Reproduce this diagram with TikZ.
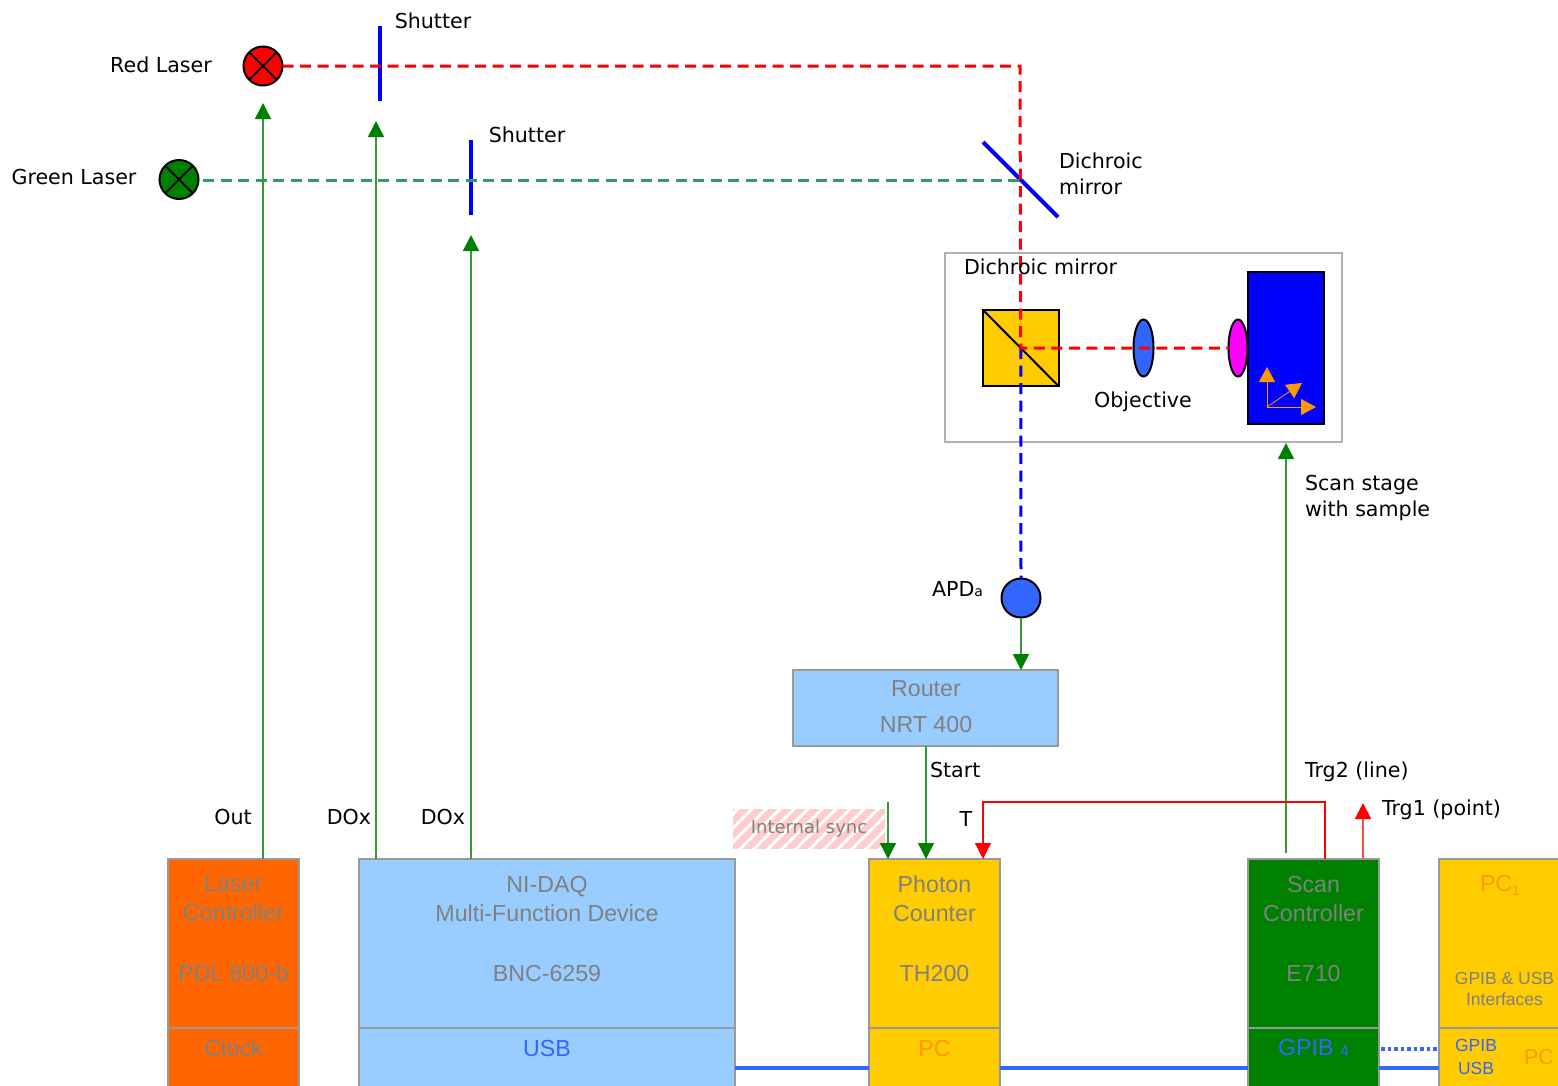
\documentclass[tikz,border=0pt]{standalone}
\usepackage{fontspec}
\setmainfont{DejaVu Sans}
\newfontfamily\blockfont{Liberation Sans}
\usetikzlibrary{arrows.meta,shapes.geometric}
\definecolor{greybd}{HTML}{999999}
\definecolor{greytx}{HTML}{808080}
\definecolor{ltblue}{HTML}{99CCFF}
\definecolor{amber}{HTML}{FFCC00}
\definecolor{orng}{HTML}{FF6600}
\definecolor{orngtx}{HTML}{FF9900}
\definecolor{gr}{HTML}{008000}
\definecolor{grline}{HTML}{339933}
\definecolor{beamgreen}{HTML}{339966}
\definecolor{royal}{HTML}{3366FF}
\definecolor{pinkst}{HTML}{FFCCCC}
\definecolor{lensmag}{HTML}{FF00FF}
\tikzset{
 x=1pt,y=-1pt,
 lbl/.style={inner sep=0,outer sep=0,font=\fontsize{20.6}{26}\selectfont,text=black,align=left},
 blocktxt/.style={inner sep=0,outer sep=0,font=\blockfont\fontsize{23.2}{29}\selectfont,text=greytx,align=center},
 smalltxt/.style={inner sep=0,outer sep=0,font=\blockfont\fontsize{17.5}{21}\selectfont,text=greytx,align=center},
 block/.style={draw=greybd,line width=2.4pt,anchor=north west,inner sep=0,outer sep=0,rectangle},
 sig/.style={draw=grline,line width=1.5pt,-{Triangle[length=16pt,width=16pt,color=gr]}},
 redsig/.style={draw=red,line width=1.2pt,-{Triangle[length=16pt,width=16pt,color=red]}},
 lamp/.style={circle,draw=black,line width=2pt,minimum size=39pt,inner sep=0,outer sep=0},
 beam/.style={line width=3pt,dash pattern=on 11pt off 6.5pt},
 shutterbar/.style={fill=blue,inner sep=0,outer sep=0,minimum width=4pt,minimum height=75pt},
 optic/.style={draw=black,line width=2pt},
 lens/.style={ellipse,draw=black,line width=2pt,inner sep=0,outer sep=0,minimum height=57pt},
 axisarrow/.style={draw=orngtx,line width=.8pt,-{Triangle[length=15pt,width=16pt,color=orngtx]}},
 bus/.style={draw=royal,line width=3.5pt},
}
\begin{document}
\begin{tikzpicture}
\useasboundingbox (0,0) rectangle (1558,1085);
\clip (0,0) rectangle (1558,1085);
\fill[white] (0,0) rectangle (1558,1085);

% lasers and shutters
\node[lamp,fill=red] (rl) at (263,66) {};
\node[lamp,fill=gr] (gl) at (179,179.5) {};
\foreach \n in {rl,gl}{\draw[optic] (\n.45)--(\n.225) (\n.135)--(\n.315);}
\node[shutterbar] (s1) at (380,63.5) {};
\node[shutterbar] (s2) at (471,177) {};
\coordinate (gstart) at (203,180);
\coordinate (bend) at (1020,66);
\coordinate (mirrormid) at (1020,180);
\coordinate (m1) at (983,142);
\coordinate (m2) at (1058,217);
\draw[blue,line width=4pt] (m1)--(m2);

% optics box
\node[block,draw=black!30,line width=1.3pt,minimum width=397pt,minimum height=189pt] (optbox) at (945,253) {};
\node[block,fill=amber,draw=black,line width=2pt,minimum width=75.5pt,minimum height=76pt] (cube) at (983,310) {};
\draw[optic] (cube.north west)--(cube.south east);
\node[lens,fill=royal,minimum width=20pt] (obj) at (1143.5,348) {};
\node[block,fill=blue,draw=black,line width=2pt,minimum width=76pt,minimum height=152pt] (stage) at (1248,272) {};
\node[lens,fill=lensmag,minimum width=19pt] (samp) at (1238,348) {};
\coordinate (ax0) at (1267,407);
\coordinate (axu) at (1267,367);
\coordinate (axr) at (1316,407);
\coordinate (axd) at (1302,383);
\draw[axisarrow] (ax0)--(axu);
\draw[axisarrow] (ax0)--(axr);
\draw[axisarrow] (ax0)--(axd);

% APD and router
\node[lamp,fill=royal] (apd) at (1021,598) {};
\node[block,fill=ltblue,minimum width=265pt,minimum height=76pt] (router) at (793,670) {};

% beams
\draw[beam,blue] (cube.center)--(apd.north);
\draw[beam,beamgreen] (gstart)--(mirrormid);
\draw[beam,red] (rl.east)--(bend)--(cube.center)--(samp.west);

% hatched label
\begin{scope}
\clip (733,809) rectangle (885,848);
\foreach \k in {-4,...,12}{\draw[pinkst,line width=6.5pt] (730+14*\k,852)--(730+14*\k+48,804);}
\end{scope}
\node[inner sep=0,outer sep=0,font=\fontsize{18}{22}\selectfont,text=greytx] (isync) at (809,829) {Internal sync};

% blocks
\node[block,fill=orng,minimum width=131pt,minimum height=260pt] (lc) at (168,859) {};
\node[block,fill=ltblue,minimum width=376pt,minimum height=260pt] (daq) at (359,859) {};
\node[block,fill=amber,minimum width=131pt,minimum height=260pt] (pc) at (869,859) {};
\node[block,fill=gr,minimum width=131pt,minimum height=260pt] (sc) at (1248,859) {};
\node[block,fill=amber,minimum width=140pt,minimum height=260pt] (pcr) at (1439,859) {};
\foreach \a/\b in {168/299,359/735,869/1000,1248/1379,1439/1579}{
  \draw[greybd,line width=2.4pt] (\a,1028)--(\b,1028);}

% buses
\coordinate (busy) at (0,1068);
\coordinate (doty) at (0,1049);
\coordinate (dotx) at (1381,1049);
\draw[bus] (daq.east |- busy)--(pc.west |- busy);
\draw[bus] (pc.east |- busy)--(sc.west |- busy);
\draw[bus] (sc.east |- busy)--(pcr.west |- busy);
\draw[royal,line width=3.5pt,dash pattern=on 3.5pt off 3pt] (dotx)--(pcr.west |- doty);

% signal connectors
\coordinate (rltip) at (263,103);
\coordinate (s1tip) at (376,121);
\coordinate (s2tip) at (471,235);
\coordinate (stagetip) at (1286,443);
\coordinate (scgreen) at (1286,853);
\coordinate (syncstart) at (888,802);
\coordinate (trg1tip) at (1363,803);
\coordinate (redright) at (1325,802);
\coordinate (redleft) at (983,802);
\draw[sig] (lc.north -| rltip)--(rltip);
\draw[sig] (daq.north -| s1tip)--(s1tip);
\draw[sig] (daq.north -| s2tip)--(s2tip);
\draw[sig] (scgreen)--(stagetip);
\draw[sig] (apd.south)--(apd.south |- router.north);
\coordinate (startx) at (926,746);
\draw[sig] (startx)--(startx |- pc.north);
\draw[sig] (syncstart)--(syncstart |- pc.north);
\draw[redsig] (sc.north -| redright)--(redright)--(redleft)--(redleft |- pc.north);
\draw[redsig,draw=red!70!white,line width=2pt] (sc.north -| trg1tip)--(trg1tip);

% labels
\node[lbl] (t1) at (161,65) {Red Laser};
\node[lbl] (t2) at (74,177) {Green Laser};
\node[lbl] (t3) at (433,21) {Shutter};
\node[lbl] (t4) at (527,135) {Shutter};
\node[lbl,anchor=west] (t5) at (1059,174) {Dichroic\\mirror};
\node[lbl,anchor=west] (t6) at (964,267) {Dichroic mirror};
\node[lbl] (t7) at (1143,402) {Objective};
\node[lbl,anchor=west] (t8) at (1305,498) {Scan stage\\with sample};
\node[lbl,anchor=west] (t9) at (932,589) {APD\fontsize{14}{16}\selectfont a};
\node[lbl,anchor=west] (t10) at (930,770) {Start};
\node[lbl] (t11) at (966,819) {T};
\node[lbl] (t12) at (233,817) {Out};
\node[lbl] (t13) at (349,817) {DOx};
\node[lbl] (t14) at (443,817) {DOx};
\node[lbl,anchor=west] (t15) at (1305,772) {Trg2 (line)};
\node[lbl,anchor=west] (t16) at (1382,810) {Trg1 (point)};

% block texts
\node[blocktxt] (b1) at (926,689) {Router};
\node[blocktxt] (b2) at (926,725) {NRT 400};
\node[blocktxt] (b3) at (233.5,898.5) {Laser\\Controller};
\node[blocktxt] (b4) at (233.5,973) {PDL 800-b};
\node[blocktxt] (b5) at (233.5,1048) {Clock};
\node[blocktxt] (b6) at (547,898.5) {NI-DAQ\\Multi-Function Device};
\node[blocktxt] (b7) at (547,973) {BNC-6259};
\node[blocktxt,text=royal] (b8) at (547,1048) {USB};
\node[blocktxt] (b9) at (934.5,898.5) {Photon\\Counter};
\node[blocktxt] (b10) at (934.5,973) {TH200};
\node[blocktxt,text=orngtx] (b11) at (934.5,1048) {PC};
\node[blocktxt] (b12) at (1313.5,898.5) {Scan\\Controller};
\node[blocktxt] (b13) at (1313.5,973) {E710};
\node[blocktxt,text=royal] (b14) at (1313.5,1048) {GPIB {\fontsize{16}{18}\selectfont\raisebox{-1pt}{4}}};
\node[blocktxt,text=orngtx] (b15) at (1500,885) {PC{\fontsize{14}{16}\selectfont\raisebox{-4pt}{1}}};
\node[smalltxt] (b16) at (1504.5,988.5) {GPIB \& USB\\Interfaces};
\node[smalltxt,text=royal] (b17) at (1476,1045) {GPIB};
\node[smalltxt,text=royal] (b18) at (1476,1068) {USB};
\node[blocktxt,text=orngtx,font=\blockfont\fontsize{21.5}{26}\selectfont] (b19) at (1539,1057) {PC};
\end{tikzpicture}
\end{document}
